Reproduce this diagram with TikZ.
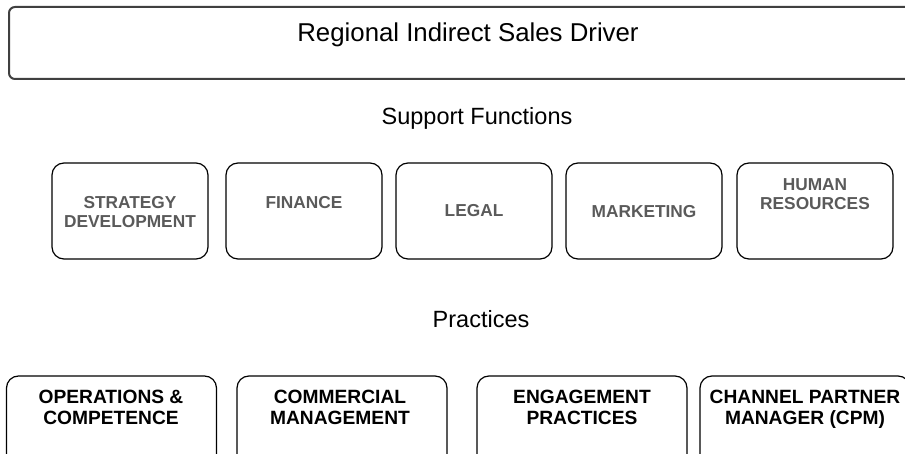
\documentclass[tikz,border=0pt]{standalone}
\usepackage{fontspec}
\setmainfont{Liberation Sans}
\definecolor{lblgray}{RGB}{90,90,90}
\definecolor{topline}{RGB}{64,64,64}
\begin{document}
\begin{tikzpicture}[x=1pt,y=-1pt,
  topbox/.style={draw=topline,line width=2pt,rounded corners=6pt,minimum width=906pt,minimum height=72pt,inner sep=0pt},
  supbox/.style={draw=black,line width=1.2pt,rounded corners=12pt,minimum width=156pt,minimum height=96pt,inner sep=0pt},
  pracbox/.style={draw=black,line width=1.2pt,rounded corners=12pt,minimum width=210pt,minimum height=96pt,inner sep=0pt},
  heading/.style={inner sep=0pt,anchor=base,font={\fontsize{23.5}{27}\selectfont}},
  suplabel/.style={inner sep=0pt,anchor=base,align=center,text=lblgray,font={\fontsize{17.3}{19.5}\selectfont\bfseries}},
  praclabel/.style={inner sep=0pt,anchor=base,align=center,text=black,font={\fontsize{19.2}{21}\selectfont\bfseries}}]
\useasboundingbox (0,0) rectangle (905,454);
% top
\node[topbox] (top) at (462,43) {};
\node[inner sep=0pt,anchor=base,font={\fontsize{25.8}{30}\selectfont}] (title) at (468,41.7) {Regional Indirect Sales Driver};
\node[heading] (suph) at (477,125) {Support Functions};
% support boxes
\node[supbox] (s1) at (130,211) {};
\node[supbox] (s2) at (304,211) {};
\node[supbox] (s3) at (474,211) {};
\node[supbox] (s4) at (644,211) {};
\node[supbox] (s5) at (815,211) {};
\node[suplabel] (l1) at (130,228) {STRATEGY\\DEVELOPMENT};
\node[suplabel] (l2) at (304,209) {FINANCE};
\node[suplabel] (l3) at (474,217) {LEGAL};
\node[suplabel] (l4) at (644,218) {MARKETING};
\node[suplabel] (l5) at (815,210) {HUMAN\\RESOURCES};
% practices
\node[heading] (prach) at (481,327) {Practices};
\node[pracbox] (p1) at (111.5,424) {};
\node[pracbox] (p2) at (342,424) {};
\node[pracbox] (p3) at (582,424) {};
\node[pracbox] (p4) at (805,424) {};
\node[praclabel] (q1) at (111,424) {OPERATIONS \&\\COMPETENCE};
\node[praclabel] (q2) at (340,424) {COMMERCIAL\\MANAGEMENT};
\node[praclabel] (q3) at (582,424) {ENGAGEMENT\\PRACTICES};
\node[praclabel] (q4) at (805,424) {CHANNEL PARTNER\\MANAGER (CPM)};
\end{tikzpicture}
\end{document}
